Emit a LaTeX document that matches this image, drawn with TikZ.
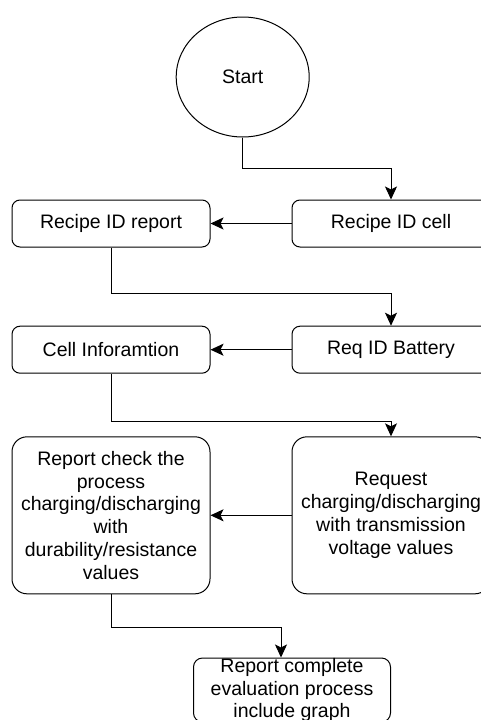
\documentclass[tikz,border=0pt]{standalone}
\usepackage{fontspec}
\setmainfont{Liberation Sans}
\usepackage{tikz}
\usetikzlibrary{shapes.geometric,arrows.meta}

\begin{document}
\begin{tikzpicture}[x=1pt, y=-1pt, line width=1pt,
start_style/.style={ellipse,draw=black,fill=white,minimum width=133pt,minimum height=120pt,inner sep=0pt,font=\fontsize{19.5}{22.7}\selectfont},
box_style/.style={rectangle,rounded corners=8pt,draw=black,fill=white,minimum width=198pt,minimum height=47pt,inner sep=0pt,align=center,font=\fontsize{19.5}{22.7}\selectfont},
big_box_style/.style={box_style,rounded corners=15pt,minimum height=157pt},
edge_style/.style={draw=black,line width=1pt,-{Stealth[length=13pt,width=12pt,inset=3pt]}}]
\useasboundingbox (0,0) rectangle (480,720);
\fill[white] (0,0) rectangle (480,720);

\node[start_style] (start) at (242.7,77) {Start};
\node[box_style] (recipe_report) at (111,223.5) {Recipe ID report};
\node[box_style] (recipe_cell) at (391,223.5) {Recipe ID cell};
\node[box_style] (cell_info) at (111,349.7) {Cell Inforamtion};
\node[box_style] (req_battery) at (391,349.7) {Req ID Battery};
\node[big_box_style] (report_check) at (111,515.3) {Report check the\\process\\charging/discharging\\with\\durability/resistance\\values};
\node[big_box_style] (request) at (391,515.3) {Request\\charging/discharging\\with transmission\\voltage values};
\node[box_style,rounded corners=9pt,minimum width=197pt,minimum height=64pt] (report_complete) at (292,690) {Report complete\\evaluation process\\include graph};

\draw[edge_style] (start.south) -- ++(0,31) -| (recipe_cell.north);
\draw[edge_style] (recipe_cell.west) -- (recipe_report.east);
\draw[edge_style] (recipe_report.south) -- ++(0,46) -| (req_battery.north);
\draw[edge_style] (req_battery.west) -- (cell_info.east);
\draw[edge_style] (cell_info.south) -- ++(0,47.7) -| (request.north);
\draw[edge_style] (request.west) -- (report_check.east);
\draw[edge_style] (report_check.south) -- ++(0,32.7) -| ([xshift=-11pt]report_complete.north);
\end{tikzpicture}
\end{document}
